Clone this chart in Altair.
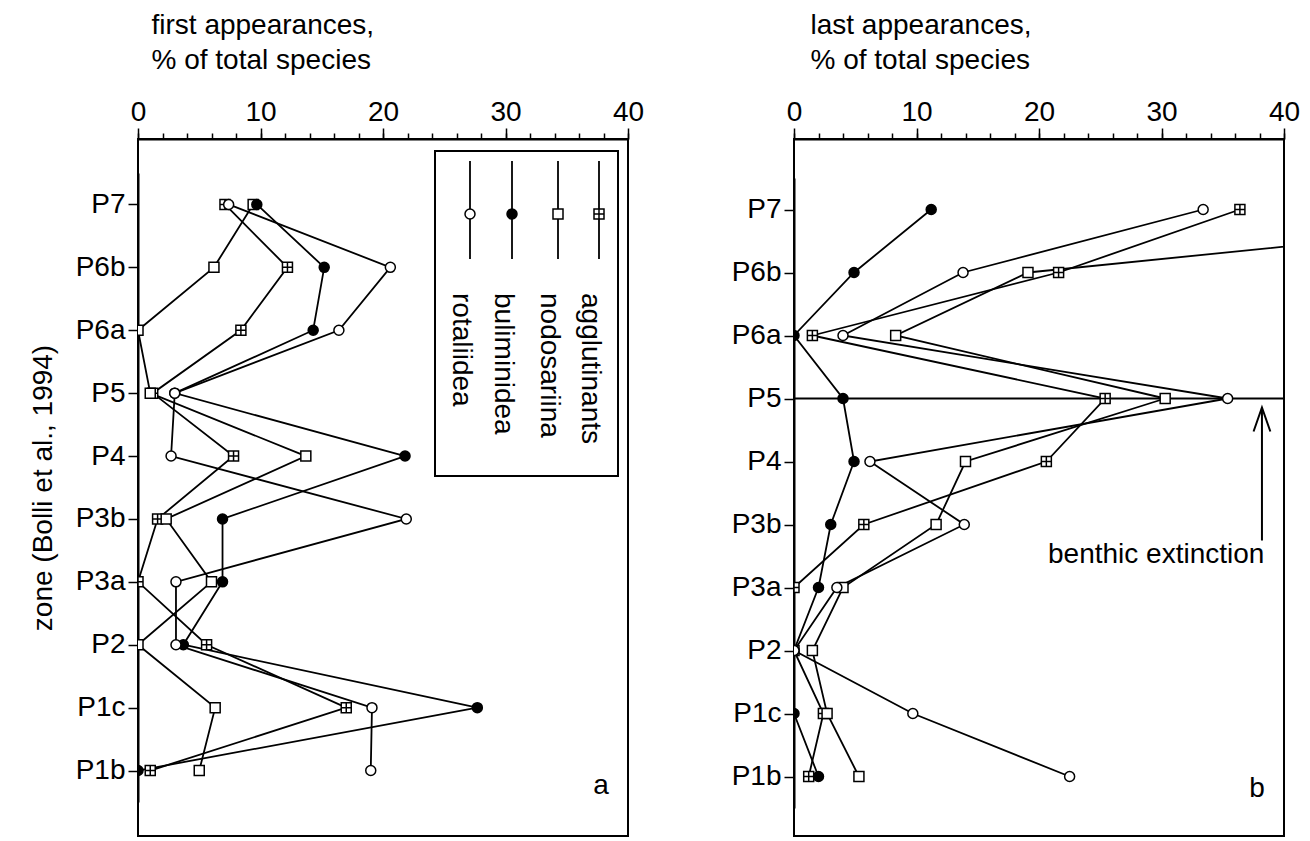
import altair as alt
import pandas as pd

zones = ["P7", "P6b", "P6a", "P5", "P4", "P3b", "P3a", "P2", "P1c", "P1b"]
series = ["agglutinants", "nodosariina", "buliminidea", "rotaliidea"]

# panel a: first appearances, % of total species
first_agglutinants = [7.1, 12.2, 8.4, 1.2, 7.8, 1.6, 0.0, 5.6, 17.0, 1.0]
first_nodosariina = [9.4, 6.2, 0.0, 1.0, 13.7, 2.3, 6.0, 0.0, 6.3, 5.0]
first_buliminidea = [9.7, 15.2, 14.3, 3.0, 21.8, 6.9, 6.9, 3.7, 27.7, 0.0]
first_rotaliidea = [7.4, 20.6, 16.4, 3.0, 2.7, 21.9, 3.1, 3.1, 19.1, 19.0]

# panel b: last appearances, % of total species
last_agglutinants = [36.4, 21.6, 1.5, 25.4, 20.6, 5.7, 0.0, 0.0, 2.4, 1.2]
last_nodosariina = [70.0, 19.1, 8.3, 30.3, 14.0, 11.6, 4.0, 1.5, 2.7, 5.3]
last_buliminidea = [11.2, 4.9, 0.0, 4.0, 4.9, 3.0, 2.0, 0.0, 0.0, 2.0]
last_rotaliidea = [33.4, 13.8, 4.0, 35.4, 6.2, 13.9, 3.5, 0.0, 9.7, 22.5]

major_ticks = [0, 10, 20, 30, 40]
minor_ticks = list(range(0, 41, 2))

FONT = "Liberation Sans"
FS = 28
HATCH = "M-1,-1H1V1H-1Z M0,-1V1 M-1,0H1"


def long_df(cols):
    rows = []
    for s, vals in zip(series, cols):
        for i, (z, v) in enumerate(zip(zones, vals)):
            rows.append({"series": s, "zone": z, "value": v, "idx": i})
    return pd.DataFrame(rows)


df_a = long_df([first_agglutinants, first_nodosariina, first_buliminidea, first_rotaliidea])
df_b = long_df([last_agglutinants, last_nodosariina, last_buliminidea, last_rotaliidea])

shape_scale = alt.Scale(domain=series, range=[HATCH, "square", "circle", "circle"])
fill_scale = alt.Scale(domain=series, range=["white", "white", "black", "white"])
x_scale = alt.Scale(domain=[0, 40], nice=False, zero=False)


def make_x_major(title_lines, title_x):
    return alt.X(
        "value:Q",
        scale=x_scale,
        axis=alt.Axis(
            orient="top",
            values=major_ticks,
            tickSize=11,
            tickWidth=1.5,
            tickColor="black",
            domainColor="black",
            domainWidth=2,
            grid=False,
            labelFont=FONT,
            labelFontSize=FS,
            labelColor="black",
            labelPadding=2,
            labelFlush=False,
            labelOverlap=False,
            title=title_lines,
            titleFont=FONT,
            titleFontSize=FS,
            titleFontWeight="normal",
            titleColor="black",
            titleAlign="left",
            titleBaseline="alphabetic",
            titleLineHeight=35,
            titleX=title_x,
            titleY=-106,
        ),
    )


def make_x_minor():
    return alt.X(
        "value:Q",
        scale=x_scale,
        axis=alt.Axis(
            orient="top",
            values=minor_ticks,
            tickSize=6,
            tickWidth=1.5,
            tickColor="black",
            domain=False,
            grid=False,
            labels=False,
            title=None,
        ),
    )


def make_y(yrange, title):
    axis_kw = dict(
        orient="left",
        tickSize=10,
        tickWidth=1.5,
        tickColor="black",
        domainColor="black",
        domainWidth=2,
        grid=False,
        labelFont=FONT,
        labelFontSize=FS,
        labelColor="black",
        labelPadding=3,
    )
    if title:
        axis_kw.update(
            title=title,
            titleFont=FONT,
            titleFontSize=FS,
            titleFontWeight="normal",
            titleColor="black",
            titlePadding=18,
        )
    else:
        axis_kw.update(title=None)
    return alt.Y(
        "zone:N",
        sort=zones,
        scale=alt.Scale(type="point", domain=zones, range=yrange),
        axis=alt.Axis(**axis_kw),
    )


def xd(v):
    return alt.X(datum=v, type="quantitative", axis=None)


def yd(z):
    return alt.Y(datum=z, type="nominal")


def data_layers(df, x_major, y):
    lines = alt.Chart(df).mark_line(color="black", strokeWidth=1.8, clip=True).encode(
        x=x_major, y=y, detail="series:N", order="idx:Q"
    )
    pts = alt.Chart(df).mark_point(
        filled=True, stroke="black", strokeWidth=1.5, opacity=1, size=100, clip=True
    ).encode(
        x=make_x_minor(),
        y=y,
        shape=alt.Shape("series:N", scale=shape_scale, legend=None),
        fill=alt.Fill("series:N", scale=fill_scale, legend=None),
    )
    return lines, pts


# ---------------- panel a ----------------
xa = make_x_major(["first appearances,", "% of total species"], 13)
ya = make_y([34, 663], "zone (Bolli et al., 1994)")
lines_a, pts_a = data_layers(df_a, xa, ya)

leg_df = pd.DataFrame({"series": series})
box = alt.Chart(leg_df.head(1)).mark_rect(fill="white", stroke="black", strokeWidth=2).encode(
    x=alt.value(297), x2=alt.value(480), y=alt.value(12), y2=alt.value(337)
)
legend_layers = [box]
leg_order = ["rotaliidea", "buliminidea", "nodosariina", "agglutinants"]
leg_x = [332, 374, 420, 461]
for s, px in zip(leg_order, leg_x):
    one = pd.DataFrame({"series": [s]})
    legend_layers.append(
        alt.Chart(one).mark_rule(color="black", strokeWidth=1.8).encode(
            x=alt.value(px), y=alt.value(22), y2=alt.value(120)
        )
    )
    legend_layers.append(
        alt.Chart(one).mark_point(filled=True, stroke="black", strokeWidth=1.5, opacity=1, size=100).encode(
            x=alt.value(px),
            y=alt.value(75),
            shape=alt.Shape("series:N", scale=shape_scale, legend=None),
            fill=alt.Fill("series:N", scale=fill_scale, legend=None),
        )
    )
    legend_layers.append(
        alt.Chart(one).mark_text(
            angle=90, align="left", baseline="middle", font=FONT, fontSize=FS, color="black"
        ).encode(x=alt.value(px - 9), y=alt.value(154), text="series:N")
    )

letter_a = alt.Chart(pd.DataFrame({"t": ["a"]})).mark_text(
    font=FONT, fontSize=FS, color="black", baseline="middle", dy=15
).encode(x=xd(37.8), y=yd("P1b"), text="t:N")

panel_a = (
    alt.layer(lines_a, *legend_layers, pts_a, letter_a)
    .properties(width=490, height=697)
    .resolve_axis(x="independent")
)

# ---------------- panel b ----------------
xb = make_x_major(["last appearances,", "% of total species"], 16)
yb = make_y([39, 669], None)
lines_b, pts_b = data_layers(df_b, xb, yb)

p5_rule = alt.Chart(pd.DataFrame({"t": ["P5"]})).mark_rule(color="black", strokeWidth=1.8).encode(
    y=yd("P5"), x=xd(0), x2=alt.X2(datum=40)
)
arrow_shaft = alt.Chart(pd.DataFrame({"t": ["arrow"]})).mark_rule(
    color="black", strokeWidth=2, yOffset=9, y2Offset=16
).encode(x=xd(38.2), y=yd("P5"), y2=alt.Y2(datum="P3b"))
arrow_head = alt.Chart(pd.DataFrame({"t": ["arrow"]})).mark_point(
    shape="M-0.7,1L0,-1L0.7,1", filled=False, stroke="black", strokeWidth=2, size=576, opacity=1, yOffset=21
).encode(x=xd(38.2), y=yd("P5"))
ext_text = alt.Chart(pd.DataFrame({"t": ["benthic extinction"]})).mark_text(
    font=FONT, fontSize=FS, color="black", align="right", baseline="alphabetic", dy=38
).encode(x=xd(38.4), y=yd("P3b"), text="t:N")
letter_b = alt.Chart(pd.DataFrame({"t": ["b"]})).mark_text(
    font=FONT, fontSize=FS, color="black", baseline="middle", dy=12
).encode(x=xd(37.8), y=yd("P1b"), text="t:N")

panel_b = (
    alt.layer(lines_b, p5_rule, arrow_shaft, arrow_head, ext_text, pts_b, letter_b)
    .properties(width=490, height=697)
    .resolve_axis(x="independent")
)

chart = (
    alt.hconcat(panel_a, panel_b, spacing=85)
    .configure(padding={"left": 28, "top": 10, "right": 0, "bottom": 0}, background="white")
    .configure_view(stroke="black", strokeWidth=2)
)

chart.save("out.html", embed_options={"renderer": "svg", "actions": False})
